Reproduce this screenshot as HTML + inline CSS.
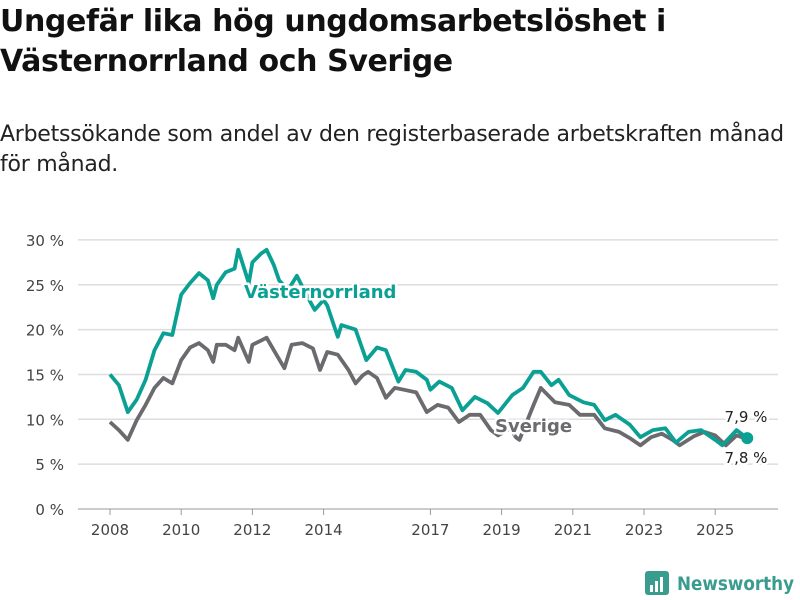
<!DOCTYPE html>
<html><head><meta charset="utf-8"><style>
body{margin:0;background:#fff;font-family:"Liberation Sans","DejaVu Sans",sans-serif;}
#wrap{position:relative;width:800px;height:600px;overflow:hidden;}
h1{position:absolute;left:0;top:2px;margin:0;font-size:30px;line-height:40px;font-weight:bold;color:#111;font-family:"DejaVu Sans",sans-serif;letter-spacing:-0.4px}
p{position:absolute;left:0;top:120px;margin:0;font-size:22px;line-height:30px;color:#222;font-family:"DejaVu Sans",sans-serif;letter-spacing:-0.25px}
</style></head><body>
<div id="wrap">
<h1>Ungefär lika hög ungdomsarbetslöshet i<br>Västernorrland och Sverige</h1>
<p>Arbetssökande som andel av den registerbaserade arbetskraften månad<br>för månad.</p>
<svg id="chart" width="800" height="600" style="position:absolute;left:0;top:0"></svg>
</div>
<script>
const years=[2008.0,2008.25,2008.5,2008.75,2009.0,2009.25,2009.5,2009.75,2010.0,2010.25,2010.5,2010.75,2010.9,2011.0,2011.25,2011.5,2011.6,2011.9,2012.0,2012.25,2012.4,2012.6,2012.75,2013.0,2013.25,2013.5,2013.75,2014.0,2014.1,2014.4,2014.5,2014.9,2015.2,2015.5,2015.75,2016.1,2016.3,2016.6,2016.9,2017.0,2017.25,2017.6,2017.9,2018.25,2018.6,2018.9,2019.3,2019.6,2019.9,2020.1,2020.4,2020.6,2020.9,2021.3,2021.6,2021.9,2022.2,2022.6,2022.9,2023.25,2023.6,2023.9,2024.25,2024.6,2025.0,2025.2,2025.6,2025.9];
const vasternorrland=[15,13.8,10.8,12.2,14.4,17.7,19.6,19.4,23.9,25.2,26.3,25.5,23.5,25,26.4,26.8,28.9,25.2,27.5,28.5,28.9,27.2,25.5,24.4,26,24,22.2,23.3,22.7,19.2,20.5,20,16.6,18,17.7,14.2,15.5,15.3,14.4,13.3,14.2,13.5,11,12.5,11.8,10.7,12.7,13.5,15.3,15.3,13.8,14.4,12.7,11.9,11.6,9.9,10.5,9.4,8,8.8,9,7.4,8.6,8.8,7.7,7.1,8.8,7.9];
const sverigeYears=[2008.0,2008.25,2008.5,2008.75,2009.0,2009.25,2009.5,2009.75,2010.0,2010.25,2010.5,2010.75,2010.9,2011.0,2011.25,2011.5,2011.6,2011.9,2012.0,2012.25,2012.4,2012.6,2012.9,2013.1,2013.4,2013.7,2013.9,2014.1,2014.4,2014.7,2014.9,2015.1,2015.25,2015.5,2015.75,2016.0,2016.25,2016.6,2016.9,2017.2,2017.5,2017.8,2018.1,2018.4,2018.7,2018.9,2019.25,2019.4,2019.5,2019.9,2020.1,2020.5,2020.9,2021.2,2021.6,2021.9,2022.3,2022.6,2022.9,2023.2,2023.5,2023.8,2024.0,2024.4,2024.7,2025.0,2025.3,2025.6,2025.9];
const sverige=[9.7,8.8,7.7,9.9,11.6,13.5,14.6,14,16.6,18,18.5,17.7,16.4,18.3,18.3,17.7,19.1,16.4,18.3,18.8,19.1,17.7,15.7,18.3,18.5,17.9,15.5,17.5,17.2,15.5,14,14.9,15.3,14.6,12.4,13.5,13.3,13,10.8,11.6,11.3,9.7,10.5,10.5,8.8,8.2,9,8,7.7,11.6,13.5,11.9,11.6,10.5,10.5,9,8.6,7.9,7.1,8,8.4,7.7,7.1,8.1,8.6,8.2,7.1,8.2,7.8];
const yTicks=[0,5,10,15,20,25,30];
const xTicks=[2008,2010,2012,2014,2017,2019,2021,2023,2025];

const svg=document.getElementById('chart');
const NS='http://www.w3.org/2000/svg';
const x=v=>110+(v-2008)*35.6;
const y=v=>509-v*8.97;
function mk(t,a){const e=document.createElementNS(NS,t);for(const k in a)e.setAttribute(k,a[k]);svg.appendChild(e);return e;}
yTicks.forEach(t=>{
  const g=mk('line',{x1:78,x2:778,y1:y(t),y2:y(t),stroke:t===0?'#bbb':'#ddd','stroke-width':1.5});
  
  
  const l=mk('text',{x:64,y:y(t)+6,'text-anchor':'end','font-size':15,fill:'#444','font-family':'DejaVu Sans,sans-serif'});
  l.textContent=t+' %';
  
  
});
xTicks.forEach(t=>{
  const tk=mk('line',{x1:x(t),x2:x(t),y1:509,y2:515,stroke:'#999','stroke-width':1});
  
  
  const l=mk('text',{x:x(t),y:535,'text-anchor':'middle','font-size':15,fill:'#444','font-family':'DejaVu Sans,sans-serif'});
  l.textContent=t;
  
  
});
function line(xs,vs,col,name){
  const d=vs.map((v,i)=>(i?'L':'M')+x(xs[i]).toFixed(1)+','+y(v).toFixed(1)).join('');
  const p=mk('path',{d:d,fill:'none',stroke:col,'stroke-width':3.8,'stroke-linejoin':'round'});
  
  
}
line(sverigeYears,sverige,'#6b6a6e','sverige-line');
line(years,vasternorrland,'#0aa094','vasternorrland-line');
const dot=mk('circle',{cx:x(years[years.length-1]),cy:y(vasternorrland[vasternorrland.length-1]),r:6,fill:'#0aa094'});


function lab(tx,px,py,col,fs,bold,name,anchor){
  const t=mk('text',{x:px,y:py,fill:col,'font-size':fs,'font-weight':bold?'bold':'normal','font-family':'DejaVu Sans,sans-serif',stroke:'#fff','stroke-width':5,'paint-order':'stroke','text-anchor':anchor||'start'});
  t.textContent=tx;
  
  
}
lab('Västernorrland',244,298,'#0aa094',18,true,'vasternorrland-label');
lab('Sverige',495,432,'#6b6a6e',18,true,'sverige-label');
lab('7,9 %',746,422,'#222',15,false,'vasternorrland-value-label','middle');
lab('7,8 %',746,463,'#222',15,false,'sverige-value-label','middle');
const lg=mk('g',{});


const r=document.createElementNS(NS,'rect');r.setAttribute('x',645);r.setAttribute('y',571);r.setAttribute('width',24);r.setAttribute('height',24);r.setAttribute('rx',3);r.setAttribute('fill','#3a9b8f');lg.appendChild(r);
[[650,585,3,7],[655,581,3,11],[660,577,3,15]].forEach(b=>{const e=document.createElementNS(NS,'rect');e.setAttribute('x',b[0]);e.setAttribute('y',b[1]);e.setAttribute('width',b[2]);e.setAttribute('height',b[3]);e.setAttribute('fill','#fff');lg.appendChild(e);});
const lt=document.createElementNS(NS,'text');lt.setAttribute('x',677);lt.setAttribute('y',590);lt.setAttribute('font-size',19);lt.setAttribute('font-weight','bold');lt.setAttribute('fill','#3a9b8f');lt.setAttribute('font-family','DejaVu Sans,sans-serif');lt.setAttribute('textLength',117);lt.setAttribute('lengthAdjust','spacingAndGlyphs');lt.textContent='Newsworthy';lg.appendChild(lt);
</script>
</body></html>
